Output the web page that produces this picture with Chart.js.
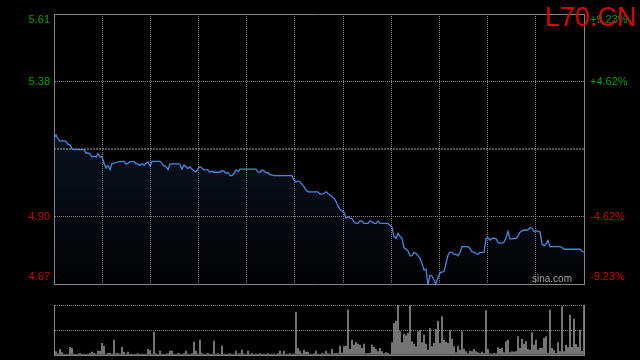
<!DOCTYPE html>
<html><head><meta charset="utf-8">
<script src="https://cdn.jsdelivr.net/npm/chart.js@4.4.0/dist/chart.umd.min.js"></script>
<style>
html,body{margin:0;padding:0;background:#000;}
#wrap{position:relative;width:640px;height:360px;background:#000;overflow:hidden;}
#main{position:absolute;left:0;top:0;width:640px;height:310px;}
#vol{position:absolute;left:0;top:290px;width:640px;height:70px;}
#title{position:absolute;left:545px;top:4px;font:27px/27px "Liberation Sans",Arial,sans-serif;color:#e00000;white-space:nowrap;}
#src{position:absolute;left:532px;top:274px;font:10px/10px "Liberation Sans",Arial,sans-serif;color:#a0a0a0;white-space:nowrap;}
</style></head><body>
<div id="wrap">
<canvas id="main" width="640" height="310"></canvas>
<canvas id="vol" width="640" height="70"></canvas>
<div id="title">L70.CN</div>
<div id="src">sina.com</div>
</div>
<script>
// ---- data ----
const prices = [
5.178,5.189,5.175,5.168,5.168,5.168,5.166,5.157,5.154,5.140,
5.138,5.138,5.138,5.138,5.138,5.138,5.126,5.126,5.123,5.112,
5.115,5.112,5.124,5.112,5.114,5.091,5.074,5.083,5.068,5.090,
5.091,5.093,5.095,5.096,5.097,5.097,5.088,5.091,5.095,5.096,
5.097,5.088,5.088,5.083,5.090,5.083,5.091,5.095,5.080,5.097,
5.097,5.097,5.097,5.097,5.090,5.080,5.079,5.068,5.088,5.088,
5.088,5.088,5.088,5.087,5.070,5.084,5.078,5.072,5.078,5.069,
5.064,5.060,5.072,5.078,5.074,5.067,5.067,5.067,5.059,5.063,
5.059,5.059,5.059,5.059,5.065,5.063,5.055,5.059,5.047,5.047,
5.056,5.067,5.062,5.070,5.070,5.070,5.070,5.070,5.070,5.070,
5.070,5.070,5.060,5.059,5.067,5.064,5.057,5.058,5.050,5.051,
5.047,5.047,5.047,5.047,5.047,5.047,5.047,5.047,5.047,5.047,
5.032,5.025,5.029,5.026,5.016,5.009,4.997,4.991,4.991,4.991,
4.991,4.991,4.991,4.983,4.983,4.986,4.991,4.985,4.980,4.974,
4.969,4.957,4.942,4.930,4.924,4.919,4.899,4.905,4.899,4.898,
4.886,4.881,4.881,4.890,4.888,4.881,4.881,4.881,4.890,4.886,
4.881,4.881,4.889,4.881,4.881,4.881,4.881,4.881,4.875,4.867,
4.835,4.829,4.846,4.835,4.829,4.796,4.792,4.785,4.768,4.769,
4.780,4.776,4.768,4.759,4.741,4.719,4.722,4.667,4.701,4.698,
4.684,4.672,4.693,4.708,4.712,4.713,4.741,4.771,4.780,4.780,
4.773,4.774,4.768,4.780,4.800,4.800,4.800,4.800,4.794,4.782,
4.781,4.776,4.773,4.780,4.780,4.780,4.829,4.831,4.823,4.829,
4.830,4.828,4.814,4.812,4.812,4.816,4.830,4.853,4.827,4.827,
4.829,4.829,4.837,4.850,4.855,4.858,4.858,4.858,4.866,4.865,
4.852,4.856,4.852,4.852,4.809,4.803,4.809,4.821,4.800,4.800,
4.800,4.800,4.800,4.800,4.797,4.791,4.791,4.791,4.791,4.791,
4.791,4.791,4.791,4.791,4.784,4.781
];
const volumes = [
23,10,4,17,7,3,2,3,23,20,
3,2,3,5,2,3,2,3,4,9,
5,3,12,12,35,27,3,5,5,3,
45,4,5,3,23,9,3,9,2,3,
2,3,4,2,3,2,3,17,13,3,
68,4,2,12,3,2,3,4,12,12,
3,2,5,3,2,4,12,3,2,4,
39,12,3,45,4,2,3,5,2,3,
42,3,4,2,27,3,2,3,4,2,
3,12,3,4,15,3,2,12,3,4,
2,3,2,4,3,2,3,4,2,3,
3,2,4,12,3,12,2,3,4,2,
3,129,20,12,4,15,9,9,3,2,
4,12,3,2,5,3,12,4,3,17,
4,5,4,27,6,25,27,135,17,45,
30,38,33,30,20,33,4,5,6,30,
23,17,10,20,10,4,7,5,3,37,
95,102,150,70,37,63,58,65,150,40,
33,25,70,73,37,60,33,15,80,25,
35,77,102,35,115,45,38,35,75,48,
25,7,27,15,70,18,10,4,12,10,
17,10,7,5,9,5,133,17,4,3,
5,4,22,17,20,7,40,45,7,10,
9,10,55,20,47,33,40,17,15,67,
30,45,15,20,20,50,55,6,135,20,
13,5,37,10,145,10,30,22,120,23,
108,32,23,75,12,150
];
const prevClose = 5.14;
const priceMin = 4.67, priceMax = 5.61;
const priceTickValues = [4.693, 4.905, 5.14, 5.375, 5.59];
const priceTickLabels = ['4.67', '4.90', '', '5.38', '5.61'];
const pctTickLabels = ['-9.23%', '-4.62%', '', '+4.62%', '+9.23%'];
const volumeMax = 150;
const timeGridCount = 11;

// ---- styling ----
const lastIdx = prices.length - 1;
const idx = prices.map((_, i) => i);
const FONT = {family: '"Liberation Sans", Arial, sans-serif', size: 11};
const GRID = '#808080', FRAME = '#858585';
const UP = '#00a000', DOWN = '#d00000';
const NONE = 'rgba(0,0,0,0)';

new Chart(document.getElementById('main'), {
  type: 'line',
  data: {
    datasets: [
      {
        data: prices.map((p, i) => ({x: i, y: p})),
        xAxisID: 'x', yAxisID: 'y',
        borderColor: '#4a86e0', borderWidth: 1.3, pointRadius: 0, tension: 0,
        fill: 'start',
        backgroundColor: (ctx) => {
          const a = ctx.chart.chartArea;
          if (!a) return NONE;
          const g = ctx.chart.ctx.createLinearGradient(0, a.top, 0, a.bottom);
          g.addColorStop(0, 'rgba(60,100,170,0.30)');
          g.addColorStop(1, 'rgba(60,100,170,0.02)');
          return g;
        }
      },
      {
        data: [{x: 0, y: prevClose}, {x: lastIdx, y: prevClose}],
        xAxisID: 'x', yAxisID: 'y',
        borderColor: '#a8a8a8', borderWidth: 1, borderDash: [2, 1],
        pointRadius: 0, fill: false
      }
    ]
  },
  options: {
    responsive: false, animation: false, devicePixelRatio: 1,
    layout: {padding: {top: 14, bottom: 26, left: 0, right: 0}},
    plugins: {legend: {display: false}, tooltip: {enabled: false}},
    scales: {
      x: {
        type: 'linear', position: 'bottom', min: 0, max: lastIdx,
        afterBuildTicks: s => { s.ticks = Array.from({length: timeGridCount + 1}, (_, k) => ({value: k * lastIdx / timeGridCount})); },
        ticks: {display: false},
        grid: {color: GRID, drawTicks: false, lineWidth: 1},
        border: {display: true, color: FRAME, dash: [1, 1]},
        afterFit: s => { s.height = 0; }
      },
      xTop: {
        type: 'linear', position: 'top', min: 0, max: lastIdx,
        ticks: {display: false},
        grid: {display: false, drawTicks: false},
        border: {display: true, color: FRAME},
        afterFit: s => { s.height = 0; }
      },
      y: {
        position: 'left', min: priceMin, max: priceMax,
        afterBuildTicks: s => { s.ticks = priceTickValues.map(v => ({value: v})); },
        ticks: {callback: (v, i) => priceTickLabels[i], color: c => c.index >= 3 ? UP : DOWN, font: FONT, padding: 4},
        grid: {color: c => (c.index === 1 || c.index === 3) ? GRID : NONE, drawTicks: false},
        border: {display: true, color: FRAME, dash: [1, 1]},
        afterFit: s => { s.width = 54; }
      },
      yR: {
        position: 'right', min: priceMin, max: priceMax,
        afterBuildTicks: s => { s.ticks = priceTickValues.map(v => ({value: v})); },
        ticks: {callback: (v, i) => pctTickLabels[i], color: c => c.index >= 3 ? UP : DOWN, font: FONT, padding: 6},
        grid: {drawOnChartArea: false, drawTicks: false},
        border: {display: true, color: FRAME},
        afterFit: s => { s.width = 56; }
      }
    }
  }
});

new Chart(document.getElementById('vol'), {
  type: 'bar',
  data: {
    labels: idx,
    datasets: [{data: volumes, backgroundColor: '#8c8c8c', barThickness: 1, categoryPercentage: 1, barPercentage: 1}]
  },
  options: {
    responsive: false, animation: false, devicePixelRatio: 1,
    layout: {padding: {top: 15, bottom: 5, left: 0, right: 0}},
    plugins: {legend: {display: false}, tooltip: {enabled: false}},
    scales: {
      x: {
        type: 'category', offset: false,
        ticks: {display: false},
        grid: {display: false, drawTicks: false},
        border: {display: true, color: FRAME},
        afterFit: s => { s.height = 0; }
      },
      y: {
        position: 'left', min: 0, max: volumeMax,
        afterBuildTicks: s => { s.ticks = [{value: 0}, {value: volumeMax / 2}, {value: volumeMax}]; },
        ticks: {display: false},
        grid: {color: c => c.index === 0 ? NONE : GRID, drawTicks: false},
        border: {display: true, color: FRAME, dash: [1, 1]},
        afterFit: s => { s.width = 54; }
      },
      yR: {
        position: 'right', min: 0, max: volumeMax,
        ticks: {display: false},
        grid: {drawOnChartArea: false, drawTicks: false},
        border: {display: true, color: FRAME},
        afterFit: s => { s.width = 56; }
      }
    }
  }
});
</script>
</body></html>
